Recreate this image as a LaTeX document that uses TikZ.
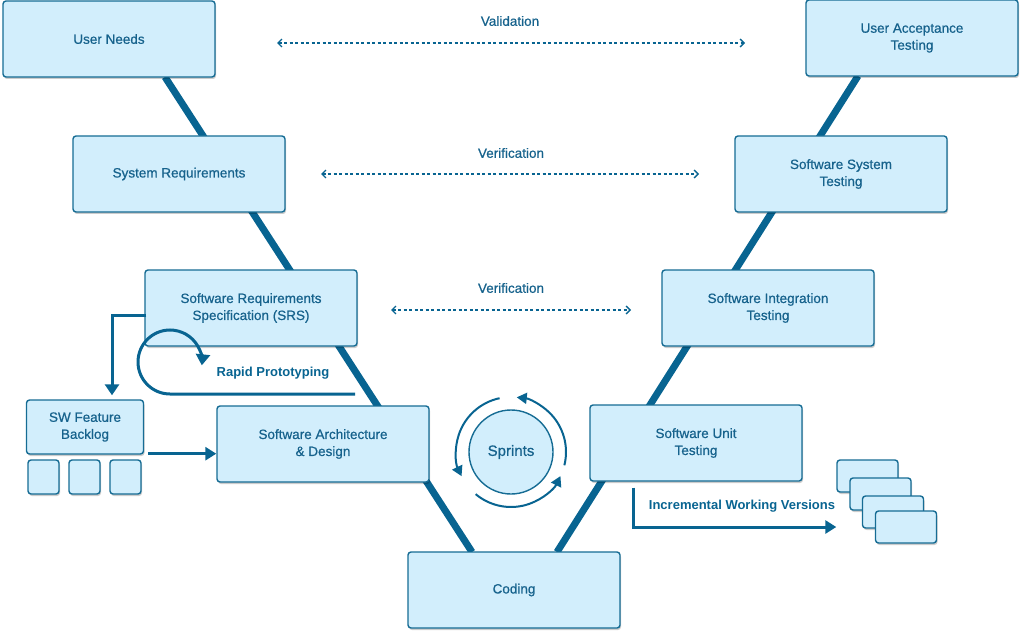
\documentclass[tikz,border=0pt]{standalone}
\usepackage{fontspec}
\setmainfont{Liberation Sans}
\newfontfamily\vmfont{Liberation Sans}[FakeBold=0.6]
\usetikzlibrary{calc,arrows.meta,shadows,backgrounds}
\definecolor{vm@fill}{RGB}{210,238,252}
\definecolor{vm@line}{RGB}{22,108,148}
\definecolor{vm@text}{RGB}{22,98,140}
\definecolor{vm@dark}{RGB}{8,100,145}

\tikzset{
  vbox/.style={draw=vm@line, fill=vm@fill, line width=1.4pt, rounded corners=3pt,
    text=vm@text, align=center, minimum width=212, minimum height=76,
    font=\vmfont\fontsize{13.5}{17}\selectfont,
    drop shadow={shadow xshift=1pt, shadow yshift=-2pt, opacity=.2, fill=black}},
  sbox/.style={vbox, minimum width=#1},
  vleg/.style={line width=7pt, vm@dark},
  check/.style={vm@dark, line width=1.3pt, dash pattern=on 3pt off 2.5pt,
    {Straight Barb[length=4pt,width=8pt]}-{Straight Barb[length=4pt,width=8pt]}},
  flow/.style={vm@dark, line width=3pt, -{Triangle[length=11pt,width=13pt]}},
  lbl/.style={text=vm@text, font=\vmfont\fontsize{13.5}{16}\selectfont},
  blbl/.style={text=vm@dark, font=\fontsize{13}{16}\selectfont\bfseries},
}

\begin{document}
\begin{tikzpicture}[x=1pt,y=-1pt]
\useasboundingbox (0,0) rectangle (1024,636);

% left side
\node[vbox] (un) at (109,39) {User Needs};
\node[vbox] (sr) at (179,174) {System Requirements};
\node[vbox] (srs) at (251,308) {Software Requirements\\Specification (SRS)};
\node[vbox] (arch) at (323,444) {Software Architecture\\\& Design};

% bottom
\node[vbox] (cod) at (514,590) {Coding};

% right side
\node[vbox] (uat) at (912,38) {User Acceptance\\Testing};
\node[vbox] (sst) at (841,174) {Software System\\Testing};
\node[vbox] (sit) at (768,308) {Software Integration\\Testing};
\node[vbox] (ut) at (696,443) {Software Unit\\Testing};

% the V itself, behind the boxes
\begin{scope}[on background layer]
  \coordinate (vl1) at (165,77);
  \coordinate (vl2) at (472,552);
  \coordinate (vr1) at (858,76);
  \coordinate (vr2) at (557,552);
  \draw[vleg] (vl1) -- (vl2);
  \draw[vleg] (vr1) -- (vr2);
\end{scope}

% validation / verification
\coordinate (va1) at (277,43);
\coordinate (va2) at (745,43);
\draw[check] (va1) -- (va2);
\node[lbl] (va) at (510,21) {Validation};

\coordinate (vf1) at (321,174);
\coordinate (vf2) at (699,174);
\draw[check] (vf1) -- (vf2);
\node[lbl] (vf) at (511,153) {Verification};

\coordinate (vg1) at (391,310);
\coordinate (vg2) at (631,310);
\draw[check] (vg1) -- (vg2);
\node[lbl] (vg) at (511,288) {Verification};

% backlog
\node[sbox=117, minimum height=54] (bl) at (85,427) {SW Feature\\Backlog};
\foreach \i/\x in {1/43.5,2/84.5,3/125.5}
  \node[vbox, minimum width=31, minimum height=34] (bq\i) at (\x,477) {};

\coordinate (srsl) at ($(srs.west)+(2,7)$);
\draw[vm@dark, line width=3pt, -{Triangle[length=11pt,width=14pt]}]
  (srsl) -| ($(bl.north)+(27,-4)$);

\coordinate (blr) at ($(bl.south east)+(4,-1)$);
\draw[flow] (blr) -- (arch.west |- blr);

% rapid prototyping
\coordinate (rp) at (355,394);
\draw[vm@dark, line width=3pt, -{Triangle[length=11pt,width=14pt]}]
  (rp) -- (170,394) arc[start angle=90, end angle=366, radius=32];
\node[blbl] (rpl) at (273,373) {Rapid Prototyping};

% sprints
\node[circle, draw=vm@line, fill=vm@fill, line width=1.4pt, minimum size=84,
  text=vm@text, font=\vmfont\fontsize{15}{17}\selectfont] (sp) at (511,452) {Sprints};
\foreach \a/\b in {14/-84, 258/154, 130/26}
  \draw[vm@dark, line width=2pt, -{Triangle[length=10pt,width=11pt]}]
    (sp.center) ++(\a:55) arc[start angle=\a, end angle=\b, radius=55];

% working versions
\foreach \i/\x/\y in {1/867.5/476,2/880.5/494,3/893/512,4/906/527}
  \node[vbox, minimum width=61, minimum height=32] (v\i) at (\x,\y) {};

\coordinate (utb) at ($(ut.south west)+(44,6)$);
\draw[flow] (utb) |- (v1.west |- v4.west);
\node[blbl] (iwv) at (742,506) {Incremental Working Versions};

\end{tikzpicture}
\end{document}
